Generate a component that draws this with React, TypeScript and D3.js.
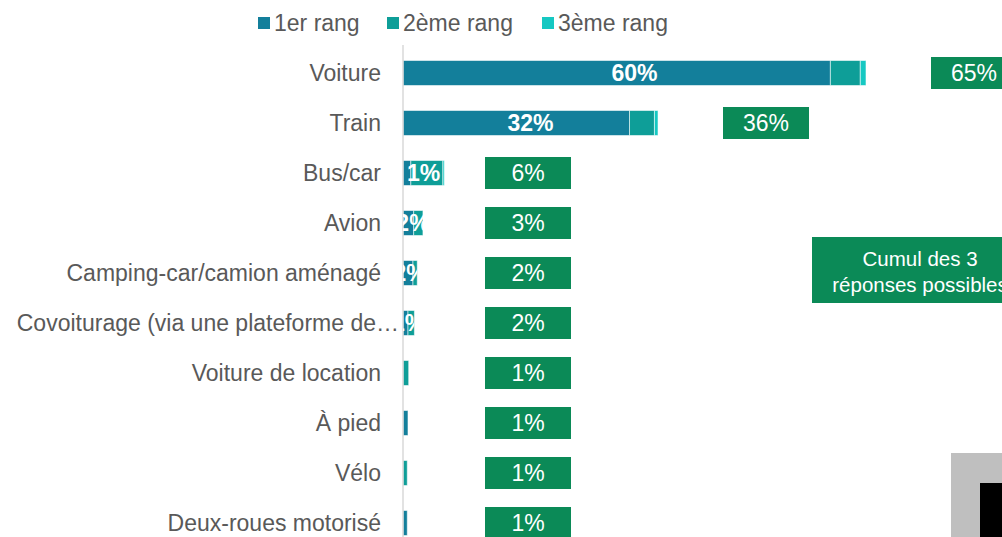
import React from "react";
import * as d3 from "d3";

// Modes de transport utilisés (%)
const categories = [
  "Voiture",
  "Train",
  "Bus/car",
  "Avion",
  "Camping-car/camion aménagé",
  "Covoiturage (via une plateforme de…",
  "Voiture de location",
  "À pied",
  "Vélo",
  "Deux-roues motorisé",
];
const rank1 = [60, 31.8, 1.1, 1.5, 1.4, 0.7, 0, 0.7, 0, 0.6];
const rank2 = [4.2, 3.5, 4.5, 1.3, 0.6, 0.9, 0.8, 0, 0.6, 0];
const rank3 = [0.8, 0.5, 0.2, 0, 0, 0, 0, 0, 0, 0];
const rank1Labels = ["60%", "32%", "1%", "2%", "2%", "1%", "", "", "", ""];
const cumul = ["65%", "36%", "6%", "3%", "2%", "2%", "1%", "1%", "1%", "1%"];
const seriesNames = ["1er rang", "2ème rang", "3ème rang"];

const colors = ["#137F9B", "#0E9E98", "#16C8C2"];
const green = "#0B8A57";
const textGray = "#595959";
const font = "'Liberation Sans', Arial, sans-serif";

export default function App() {
  const width = 1002;
  const height = 537;

  const x = d3.scaleLinear().domain([0, 65]).range([403, 866]);
  const y = d3
    .scaleBand<string>()
    .domain(categories)
    .range([48, 548])
    .paddingInner(0.5)
    .paddingOuter(0.25);

  const rows = categories.map((c, i) => ({
    name: c,
    vals: [rank1[i], rank2[i], rank3[i]],
    label: rank1Labels[i],
    cumul: cumul[i],
  }));

  const stack = d3
    .stack<{ vals: number[] }, number>()
    .keys([0, 1, 2])
    .value((d, k) => d.vals[k]);
  const series = stack(rows);

  const legendX = [258, 387, 542];
  const bw = y.bandwidth();
  const fs = 23;

  return (
    <svg
      width={width}
      height={height}
      style={{ position: "absolute", left: 0, top: 0, background: "#fff" }}
      fontFamily={font}
    >
      <defs>
        {rows.map((r, i) => {
          const total = r.vals[0] + r.vals[1] + r.vals[2];
          return (
            <clipPath id={`clip-${i}`} key={i}>
              <rect
                x={x(0)}
                y={y(r.name)!}
                width={x(total) - x(0)}
                height={bw}
              />
            </clipPath>
          );
        })}
      </defs>

      {/* legend */}
      {seriesNames.map((s, i) => (
        <g key={s}>
          <rect x={legendX[i]} y={17} width={12} height={12} fill={colors[i]} />
          <text x={legendX[i] + 16} y={31} fontSize={fs} fill={textGray}>
            {s}
          </text>
        </g>
      ))}

      {/* category labels */}
      {rows.map((r, i) => (
        <text
          key={r.name}
          x={i === 5 ? 399 : 381}
          y={y(r.name)! + bw / 2}
          dy="0.36em"
          textAnchor="end"
          fontSize={fs}
          fill={textGray}
        >
          {r.name}
        </text>
      ))}

      {/* stacked bars */}
      {series.map((s, k) => (
        <g key={k} fill={colors[k]}>
          {s.map((d, i) =>
            d[1] - d[0] > 0 ? (
              <rect
                key={i}
                x={x(d[0])}
                y={y(categories[i])!}
                width={x(d[1]) - x(d[0])}
                height={bw}
                stroke="rgba(255,255,255,0.55)"
                strokeWidth={1}
              />
            ) : null
          )}
        </g>
      ))}

      {/* axis line */}
      <line x1={403} x2={403} y1={45} y2={537} stroke="#d9d9d9" strokeWidth={1.5} />

      {/* bar labels (1er rang) */}
      {rows.map((r, i) => {
        const total = r.vals[0] + r.vals[1] + r.vals[2];
        return r.label ? (
          <text
            key={i}
            clipPath={`url(#clip-${i})`}
            x={(x(0) + x(total)) / 2}
            y={y(r.name)! + bw / 2}
            dy="0.36em"
            textAnchor="middle"
            fontSize={fs}
            fontWeight="bold"
            fill="#fff"
          >
            {r.label}
          </text>
        ) : null;
      })}

      {/* cumul boxes */}
      {rows.map((r, i) => {
        const total = r.vals[0] + r.vals[1] + r.vals[2];
        const cx = total >= 10 ? x(total) + 108 : x(0) + 125;
        const cy = y(r.name)! + bw / 2;
        return (
          <g key={i}>
            <rect x={cx - 43} y={cy - 16} width={86} height={32} fill={green} />
            <text
              x={cx}
              y={cy}
              dy="0.36em"
              textAnchor="middle"
              fontSize={fs}
              fill="#fff"
            >
              {r.cumul}
            </text>
          </g>
        );
      })}

      {/* note */}
      <rect x={812} y={237} width={220} height={66} fill={green} />
      <text x={920} y={266} textAnchor="middle" fontSize={20.5} fill="#fff">
        Cumul des 3
      </text>
      <text x={920} y={292} textAnchor="middle" fontSize={20.5} fill="#fff">
        réponses possibles
      </text>

      <rect x={951} y={453} width={60} height={90} fill="#bfbfbf" />
      <rect x={980} y={483} width={30} height={60} fill="#000" />
    </svg>
  );
}
